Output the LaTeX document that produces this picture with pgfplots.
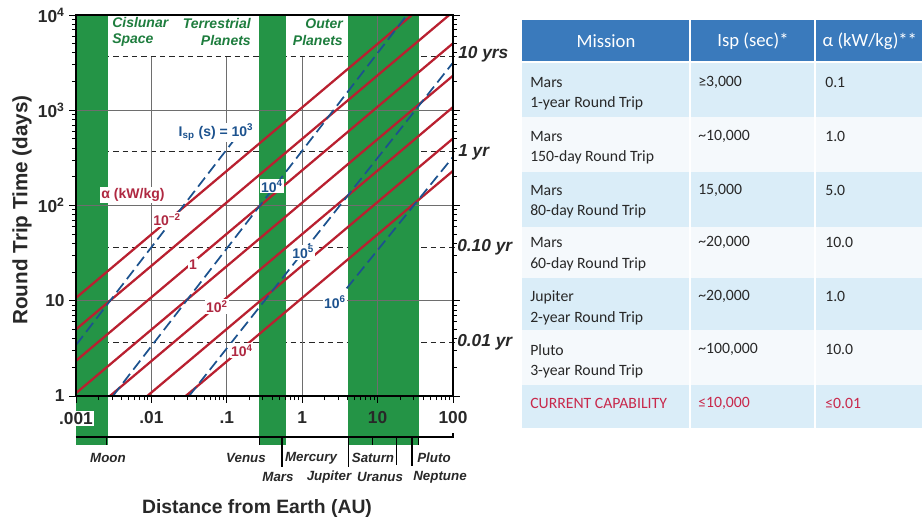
\documentclass[border=0pt]{standalone}
\usepackage{pgfplots}
\pgfplotsset{compat=1.18}
\usepackage{fontspec}
\setmainfont{Liberation Sans}
\newfontfamily\tabfont{Carlito}
\definecolor{bandgreen}{RGB}{36,148,70}
\definecolor{txtgreen}{RGB}{30,125,62}
\definecolor{linered}{RGB}{185,32,48}
\definecolor{labred}{RGB}{175,40,65}
\definecolor{lineblue}{RGB}{28,82,142}
\definecolor{gridgray}{RGB}{110,110,110}
\definecolor{hdrblue}{RGB}{58,122,188}
\definecolor{rowlight}{RGB}{218,237,248}
\definecolor{rowwhite}{RGB}{245,249,252}
\definecolor{capred}{RGB}{200,40,75}
\definecolor{dtext}{RGB}{40,40,40}
\newcommand{\fs}[1]{\fontsize{#1}{#1}\selectfont}
\begin{document}
\begin{tikzpicture}[x=0.75pt,y=0.75pt]
\useasboundingbox (0,0) rectangle (922,-522);
% ---------------- table ----------------
\begin{scope}[font=\tabfont]
\fill[hdrblue] (522,-20) rectangle (922,-62);
\fill[rowlight] (522,-62) rectangle (922,-117);
\fill[rowwhite] (522,-117) rectangle (922,-172);
\fill[rowlight] (522,-172) rectangle (922,-227);
\fill[rowwhite] (522,-227) rectangle (922,-278);
\fill[rowlight] (522,-278) rectangle (922,-330);
\fill[rowwhite] (522,-330) rectangle (922,-385);
\fill[rowlight] (522,-385) rectangle (922,-428);
\draw[white, line width=1.5pt] (690,-20) -- (690,-428) (815,-20) -- (815,-428);
\draw[white, line width=1.2pt] (522,-62) -- (922,-62);
\node[white, font=\tabfont\fs{14}] at (606,-41) {Mission};
\node[white, font=\tabfont\fs{14}] at (753,-41) {Isp (sec)*};
\node[white, font=\tabfont\fs{14}, anchor=west] at (818,-41) {α (kW/kg)**};
\begin{scope}[every node/.style={anchor=west, text=dtext, font=\tabfont\fs{11.8}, inner sep=0pt}]
\node at (530,-83) {Mars};   \node at (530,-103) {1-year Round Trip};
\node at (698,-82) {≥3,000}; \node at (825,-82) {0.1};
\node at (530,-137) {Mars};  \node at (530,-157) {150-day Round Trip};
\node at (698,-136) {\textasciitilde10,000}; \node at (825,-136) {1.0};
\node at (530,-191) {Mars};  \node at (530,-211) {80-day Round Trip};
\node at (698,-190) {15,000}; \node at (825,-190) {5.0};
\node at (530,-243) {Mars};  \node at (530,-264) {60-day Round Trip};
\node at (698,-242) {\textasciitilde20,000}; \node at (825,-242) {10.0};
\node at (530,-297) {Jupiter};  \node at (530,-318) {2-year Round Trip};
\node at (698,-296) {\textasciitilde20,000}; \node at (825,-296) {1.0};
\node at (530,-350) {Pluto};  \node at (530,-371) {3-year Round Trip};
\node at (698,-349) {\textasciitilde100,000}; \node at (825,-349) {10.0};
\node[text=capred] at (530,-403) {CURRENT CAPABILITY};
\node[text=capred] at (698,-403) {≤10,000};
\node[text=capred] at (825,-403) {≤0.01};
\end{scope}
\end{scope}
% ---------------- chart ----------------
\begin{axis}[
  at={(57pt,-297pt)}, anchor=south west,
  scale only axis, width=282.75pt, height=285.75pt,
  xmode=log, ymode=log,
  xmin=1e-3, xmax=100, ymin=1, ymax=1e4,
  clip=false, axis on top,
  axis line style={line width=0.9pt},
  xtick={1e-3,1e-2,1e-1,1,10,100},
  xticklabels={{\setlength{\fboxsep}{1pt}\colorbox{white}{.001}},.01,.1,1,10,100},
  ytick={1,10,100,1000,10000},
  yticklabels={1,10,10\textsuperscript{2},10\textsuperscript{3},10\textsuperscript{4}},
  xtick pos=bottom, ytick pos=both, yticklabel pos=left,
  tick align=outside,
  major tick length=5pt, minor tick length=3pt,
  tick style={black, line width=0.7pt},
  xticklabel style={font=\bfseries\fs{13}, text=dtext, yshift=-3pt},
  yticklabel style={font=\bfseries\fs{13}, text=dtext},
]
% dashed year lines (behind bands)
\addplot[black!85, line width=0.75pt, dash pattern=on 4pt off 3pt] coordinates {(0.001,3652.5)(113,3652.5)};
\addplot[black!85, line width=0.75pt, dash pattern=on 4pt off 3pt] coordinates {(0.001,365.25)(113,365.25)};
\addplot[black!85, line width=0.75pt, dash pattern=on 4pt off 3pt] coordinates {(0.001,36.525)(113,36.525)};
\addplot[black!85, line width=0.75pt, dash pattern=on 4pt off 3pt] coordinates {(0.001,3.6525)(113,3.6525)};
% green bands
\addplot[fill=bandgreen, draw=none] coordinates {(0.001,0.306)(0.00265,0.306)(0.00265,1e4)(0.001,1e4)} -- cycle;
\addplot[fill=bandgreen, draw=none] coordinates {(0.265,0.306)(0.61,0.306)(0.61,1e4)(0.265,1e4)} -- cycle;
\addplot[fill=bandgreen, draw=none] coordinates {(4.0,0.306)(35,0.306)(35,1e4)(4.0,1e4)} -- cycle;
% grid lines
\addplot[gridgray, line width=0.6pt] coordinates {(0.01,1)(0.01,3652.5)};
\addplot[gridgray, line width=0.6pt] coordinates {(0.1,1)(0.1,3652.5)};
\addplot[gridgray, line width=0.6pt] coordinates {(1,1)(1,3652.5)};
\addplot[gridgray, line width=0.6pt] coordinates {(10,1)(10,10000)};
\addplot[gridgray, line width=0.6pt] coordinates {(0.001,10)(100,10)};
\addplot[gridgray, line width=0.6pt] coordinates {(0.001,100)(100,100)};
\addplot[gridgray, line width=0.6pt] coordinates {(0.001,1000)(100,1000)};
% alpha lines (kW/kg)
\addplot[linered, line width=1.7pt] coordinates {(0.001,10.72)(28.5,10000)};
\addplot[linered, line width=1.7pt] coordinates {(0.001,5.01)(89.1,10000)};
\addplot[linered, line width=1.7pt] coordinates {(0.001,2.344)(100,5047)};
\addplot[linered, line width=1.7pt] coordinates {(0.001,1.072)(100,2307)};
\addplot[linered, line width=1.7pt] coordinates {(0.002818,1)(100,1080)};
\addplot[linered, line width=1.7pt] coordinates {(0.00881,1)(100,505)};
\addplot[linered, line width=1.7pt] coordinates {(0.0285,1)(100,231)};
% Isp lines (s)
\addplot[lineblue, line width=1.3pt, dash pattern=on 8.5pt off 4pt] coordinates {(0.001,3.43)(0.123,480)};
\addplot[lineblue, line width=1.3pt, dash pattern=on 8.5pt off 4pt] coordinates {(0.00309,1)(24.5,10000)};
\addplot[lineblue, line width=1.3pt, dash pattern=on 8.5pt off 4pt] coordinates {(0.0316,1)(100,3162)};
\addplot[lineblue, line width=1.3pt, dash pattern=on 8.5pt off 4pt] coordinates {(3.89,13.5)(100,323.6)};
% lower strip
\addplot[black, line width=0.9pt] coordinates {(0.001,0.371)(100,0.371)(100,0.41)};
\addplot[black, line width=0.8pt] coordinates {(0.00257,0.371)(0.00257,0.306)};
\addplot[black, line width=0.8pt] coordinates {(0.275,0.371)(0.275,0.306)};
\addplot[black, line width=0.8pt] coordinates {(8.5,0.371)(8.5,0.306)};
\addplot[black, line width=0.8pt] coordinates {(35,0.371)(35,0.306)};
\addplot[black, line width=0.8pt] coordinates {(0.54,0.371)(0.54,0.18)};
\addplot[black, line width=0.8pt] coordinates {(4.17,0.371)(4.17,0.18)};
\addplot[black, line width=0.8pt] coordinates {(18,0.371)(18,0.19)};
\addplot[black, line width=0.8pt] coordinates {(28.6,0.371)(28.6,0.185)};
% line labels
\begin{scope}[every node/.style={fill=white, inner sep=1pt, font=\bfseries\fs{10.5}}]
\node[text=labred] at (axis cs:0.0057,129) {α (kW/kg)};
\node[text=labred] at (axis cs:0.0161,71) {10\textsuperscript{−2}};
\node[text=labred] at (axis cs:0.0356,24) {1};
\node[text=labred] at (axis cs:0.0741,8.7) {10\textsuperscript{2}};
\node[text=labred] at (axis cs:0.159,3.0) {10\textsuperscript{4}};
\node[text=lineblue] at (axis cs:0.072,590) {I\textsubscript{sp} (s) = 10\textsuperscript{3}};
\node[text=lineblue] at (axis cs:0.398,160) {10\textsuperscript{4}};
\node[text=lineblue] at (axis cs:1.03,32.4) {10\textsuperscript{5}};
\node[text=lineblue] at (axis cs:2.72,9.7) {10\textsuperscript{6}};
\end{scope}
\end{axis}
% region labels
\begin{scope}[every node/.style={text=txtgreen, font=\bfseries\itshape\fontsize{10.5}{12.5}\selectfont, inner sep=0pt}]
\node[anchor=west, align=left] at (112,-32) {Cislunar\\Space};
\node[anchor=east, align=right] at (251,-32) {Terrestrial\\Planets};
\node[anchor=east, align=right] at (343,-32) {Outer\\Planets};
\end{scope}
% right-hand year labels
\begin{scope}[every node/.style={anchor=west, text=dtext, font=\bfseries\itshape\fs{13}, inner sep=0pt}]
\node at (458,-54) {10 yrs};
\node at (458,-152) {1 yr};
\node at (457,-247) {0.10 yr};
\node at (457,-342) {0.01 yr};
\end{scope}
% planet names
\begin{scope}[every node/.style={text=dtext, font=\bfseries\itshape\fs{10}, inner sep=0pt}]
\node at (108,-458) {Moon};
\node at (246,-458) {Venus};
\node at (311,-458) {Mercury};
\node at (373,-458) {Saturn};
\node at (434,-458) {Pluto};
\node at (278,-477) {Mars};
\node at (329,-477) {Jupiter};
\node at (380,-477) {Uranus};
\node at (440,-477) {Neptune};
\end{scope}
% axis titles
\node[text=dtext, font=\bfseries\fs{14.5}] at (257,-508) {Distance from Earth (AU)};
\node[text=dtext, font=\bfseries\fs{15.5}, rotate=90] at (22,-210) {Round Trip Time (days)};
\end{tikzpicture}
\end{document}
